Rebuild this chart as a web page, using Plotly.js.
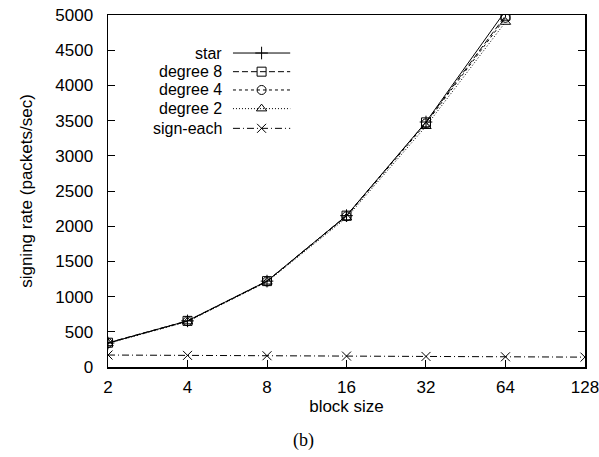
<!DOCTYPE html>
<html>
<head>
<meta charset="utf-8">
<script src="https://cdn.plot.ly/plotly-3.0.1.min.js"></script>
<style>
  html, body { margin: 0; padding: 0; background: #fff; }
  #chart { width: 599px; height: 457px; }
</style>
</head>
<body>
<div id="chart"></div>
<script>
// Block sizes (log2 axis) and signing rates in packets/sec
const blockSizes = [2, 4, 8, 16, 32, 64];
const blockSizesAll = [2, 4, 8, 16, 32, 64, 128];
const tickLabels = ['2', '4', '8', '16', '32', '64', '128'];

const starRate    = [340, 655, 1220, 2150, 3480, 5060];
const degree8Rate = [345, 655, 1220, 2150, 3475, 4990];
const degree4Rate = [340, 650, 1215, 2140, 3460, 4960];
const degree2Rate = [335, 645, 1210, 2120, 3420, 4900];
const signEachRate = [170, 165, 160, 155, 150, 145, 140];

const seriesNames = ['star', 'degree 8', 'degree 4', 'degree 2', 'sign-each'];

const FONT = 'Liberation Sans, Arial, Helvetica, sans-serif';

const styles = [
  { dash: 'solid',            symbol: 'cross-thin-open' },
  { dash: '6px,3px',          symbol: 'square-open' },
  { dash: '3px,3px',          symbol: 'circle-open' },
  { dash: '1px,2px',          symbol: 'triangle-up-open' },
  { dash: '7px,3px,1px,3px',  symbol: 'x-thin-open' }
];

const seriesX = [blockSizes, blockSizes, blockSizes, blockSizes, blockSizesAll];
const seriesY = [starRate, degree8Rate, degree4Rate, degree2Rate, signEachRate];

const traces = seriesY.map((ys, i) => ({
  type: 'scatter',
  mode: 'lines+markers',
  name: seriesNames[i],
  x: seriesX[i],
  y: ys,
  line: { color: '#000', width: 1, dash: styles[i].dash },
  marker: { symbol: styles[i].symbol, size: 9, color: '#000',
            line: { color: '#000', width: 1 } },
  showlegend: false,
  hoverinfo: 'skip'
}));

// Key in the upper-left corner: label, then line sample with its marker
const keyTextX = 0.241, keyLineX0 = 0.262, keyLineX1 = 0.382;
const keyRowY = [0.892, 0.839, 0.787, 0.734, 0.678];

const shapes = [];
const annotations = [];
seriesNames.forEach((name, i) => {
  annotations.push({
    xref: 'paper', yref: 'paper', x: keyTextX, y: keyRowY[i],
    xanchor: 'right', yanchor: 'middle', showarrow: false, borderpad: 0,
    text: name, font: { family: FONT, size: 16, color: '#000' }
  });
  shapes.push({
    type: 'line', xref: 'paper', yref: 'paper',
    x0: keyLineX0, x1: keyLineX1, y0: keyRowY[i], y1: keyRowY[i],
    line: { color: '#000', width: 1, dash: styles[i].dash }
  });
  traces.push({
    type: 'scatter', mode: 'markers', xaxis: 'x2', yaxis: 'y2',
    x: [(keyLineX0 + keyLineX1) / 2], y: [keyRowY[i]],
    marker: { symbol: styles[i].symbol, size: 9, color: '#000',
              line: { color: '#000', width: 1 } },
    showlegend: false, hoverinfo: 'skip', cliponaxis: false
  });
});

annotations.push({
  xref: 'paper', yref: 'paper', x: 0.41, y: -0.21,
  xanchor: 'center', yanchor: 'middle', showarrow: false,
  text: '(b)', font: { family: 'Liberation Serif, Times New Roman, serif', size: 18, color: '#000' }
});

const eps = 1e-4;
const layout = {
  width: 599, height: 457,
  margin: { l: 108, r: 14, t: 15, b: 90 },
  paper_bgcolor: '#fff', plot_bgcolor: '#fff',
  font: { family: FONT, size: 17, color: '#000' },
  showlegend: false,
  xaxis: {
    type: 'log',
    range: [Math.log10(2) - eps, Math.log10(128) + eps],
    tickvals: blockSizesAll, ticktext: tickLabels,
    ticks: 'inside', ticklen: 7, tickwidth: 1, tickcolor: '#000',
    showline: true, linecolor: '#000', linewidth: 1.5, mirror: true,
    showgrid: false, zeroline: false,
    ticklabelstandoff: 4, ticklabeloverflow: 'allow',
    tickfont: { family: FONT, size: 17 },
    title: { text: 'block size', font: { family: FONT, size: 17 }, standoff: 2 }
  },
  yaxis: {
    range: [0, 5000],
    tickvals: [0, 500, 1000, 1500, 2000, 2500, 3000, 3500, 4000, 4500, 5000],
    ticks: 'inside', ticklen: 7, tickwidth: 1, tickcolor: '#000',
    showline: true, linecolor: '#000', linewidth: 1.5, mirror: 'ticks',
    showgrid: false, zeroline: false,
    ticklabelstandoff: 10, ticklabeloverflow: 'allow',
    tickfont: { family: FONT, size: 17 },
    title: { text: 'signing rate (packets/sec)', font: { family: FONT, size: 17 }, standoff: 18 }
  },
  xaxis2: { overlaying: 'x', range: [0, 1], visible: false, fixedrange: true },
  yaxis2: { overlaying: 'y', range: [0, 1], visible: false, fixedrange: true },
  shapes: shapes,
  annotations: annotations
};

Plotly.newPlot('chart', traces, layout, { staticPlot: true, displayModeBar: false });
</script>
</body>
</html>
